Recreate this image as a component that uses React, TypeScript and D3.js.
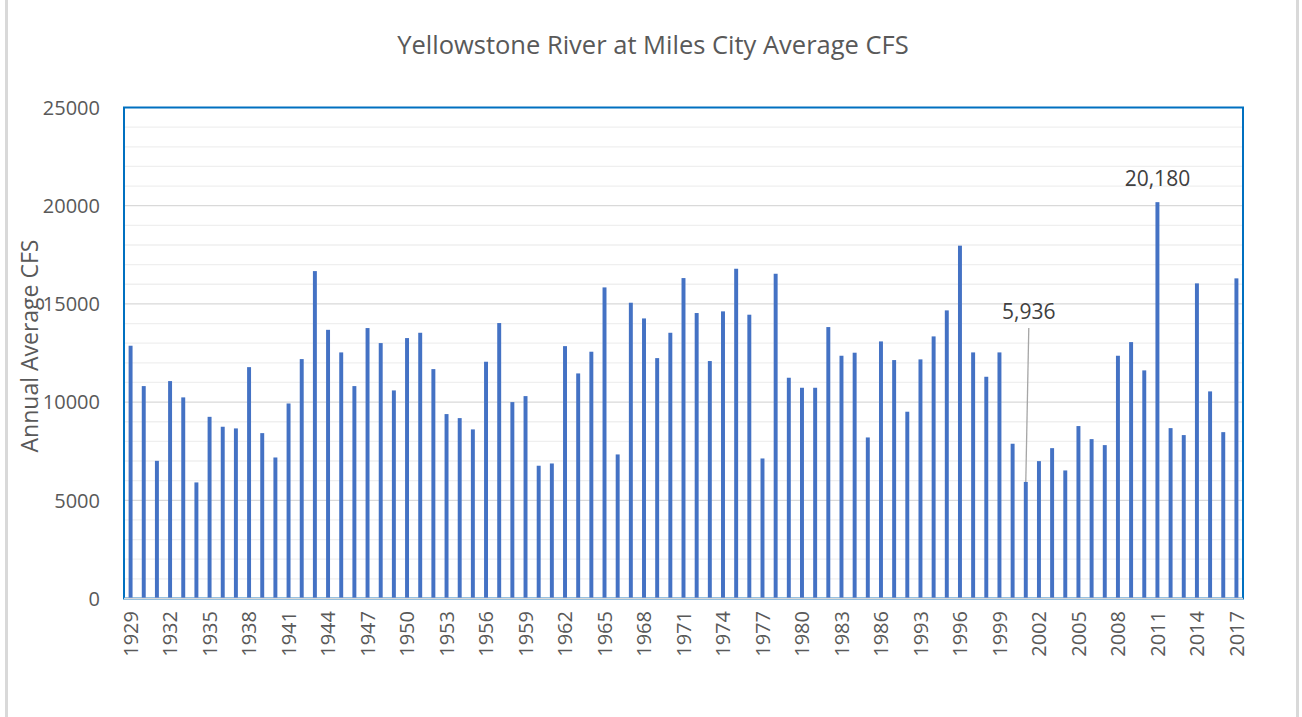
import React from "react";
import * as d3 from "d3";

const years: number[] = [
  1929, 1930, 1931, 1932, 1933, 1934, 1935, 1936, 1937, 1938,
  1939, 1940, 1941, 1942, 1943, 1944, 1945, 1946, 1947, 1948,
  1949, 1950, 1951, 1952, 1953, 1954, 1955, 1956, 1957, 1958,
  1959, 1960, 1961, 1962, 1963, 1964, 1965, 1966, 1967, 1968,
  1969, 1970, 1971, 1972, 1973, 1974, 1975, 1976, 1977, 1978,
  1979, 1980, 1981, 1982, 1983, 1984, 1985, 1986, 1987, 1988,
  1993, 1994, 1995, 1996, 1997, 1998, 1999, 2000, 2001, 2002,
  2003, 2004, 2005, 2006, 2007, 2008, 2009, 2010, 2011, 2012,
  2013, 2014, 2015, 2016, 2017,
];

const cfs: number[] = [
  12870, 10815, 7010, 11070, 10240, 5910, 9250, 8745, 8660, 11780,
  8420, 7180, 9930, 12190, 16670, 13680, 12530, 10815, 13770, 13005,
  10595, 13260, 13530, 11680, 9390, 9185, 8610, 12055, 14025, 10000,
  10305, 6760, 6875, 12850, 11460, 12565, 15840, 7335, 15060, 14260,
  12240, 13530, 16315, 14535, 12090, 14620, 16790, 14450, 7130, 16535,
  11240, 10730, 10730, 13820, 12360, 12515, 8200, 13090, 12140, 9510,
  12175, 13345, 14670, 17965, 12530, 11290, 12530, 7880, 5936, 6995,
  7655, 6520, 8780, 8115, 7810, 12360, 13055, 11615, 20180, 8675,
  8320, 16045, 10545, 8470, 16300,
];

const yTicks: number[] = [0, 5000, 10000, 15000, 20000, 25000];
const minorTicks: number[] = d3.range(1000, 25000, 1000);

const labelEvery = 3;
const title = "Yellowstone River at Miles City Average CFS";
const yTitle = "Annual Average CFS";
const annotations: { year: number; text: string; above: number; leader: boolean }[] = [
  { year: 2011, text: "20,180", above: 16, leader: false },
  { year: 2001, text: "5,936", above: 163, leader: true },
];

const FONT = "'Open Sans', 'DejaVu Sans', sans-serif";

export default function App() {
  const left = 124;
  const right = 1243;
  const top = 107.5;
  const bottom = 598.5;

  const x = d3
    .scaleBand<number>()
    .domain(years)
    .range([left, right])
    .paddingInner(0.7)
    .paddingOuter(0.35);
  const y = d3.scaleLinear().domain([0, 25000]).range([bottom, top]);

  const bw = x.bandwidth();
  const cx = (yr: number) => (x(yr) as number) + bw / 2;

  return (
    <svg
      width={1302}
      height={717}
      style={{ position: "absolute", left: 0, top: 0, background: "#fff" }}
      fontFamily={FONT}
    >
      <rect x={0} y={0} width={1302} height={717} fill="#fff" />
      <rect x={6.5} y={-10} width={1291} height={740} fill="none" stroke="#d9d9d9" strokeWidth={3} />

      <text x={653} y={54} textAnchor="middle" fontSize={25.5} fill="#595959">
        {title}
      </text>

      {/* minor gridlines */}
      {minorTicks
        .filter((t) => t % 5000 !== 0)
        .map((t) => (
          <line key={"m" + t} x1={left} x2={right} y1={y(t)} y2={y(t)} stroke="#efefef" strokeWidth={1.3} />
        ))}
      {/* major gridlines */}
      {yTicks
        .filter((t) => t > 0 && t < 25000)
        .map((t) => (
          <line key={"g" + t} x1={left} x2={right} y1={y(t)} y2={y(t)} stroke="#d9d9d9" strokeWidth={1.3} />
        ))}

      {/* plot border */}
      <rect x={left} y={top} width={right - left} height={bottom - top} fill="none" stroke="#0070c0" strokeWidth={2} />

      {/* bars */}
      {years.map((yr, i) => (
        <rect
          key={yr}
          x={x(yr)}
          y={y(cfs[i])}
          width={bw}
          height={y(0) - y(cfs[i])}
          fill="#4472c4"
        />
      ))}

      {/* x axis line */}
      <line x1={left} x2={right} y1={bottom} y2={bottom} stroke="#d9d9d9" strokeWidth={1.5} />

      {/* y tick labels */}
      {yTicks.map((t) => (
        <text key={"yt" + t} x={100} y={y(t)} dy="0.36em" textAnchor="end" fontSize={20} fill="#595959">
          {t}
        </text>
      ))}

      {/* x tick labels */}
      {years
        .filter((_, i) => i % labelEvery === 0)
        .map((yr) => (
          <text
            key={"xt" + yr}
            transform={`translate(${cx(yr)},${611}) rotate(-90)`}
            dy="0.36em"
            textAnchor="end"
            fontSize={20}
            fill="#595959"
          >
            {yr}
          </text>
        ))}

      {/* y title */}
      <text transform={`translate(30,346) rotate(-90)`} dy="0.36em" textAnchor="middle" fontSize={23} fill="#595959">
        {yTitle}
      </text>

      {/* annotations */}
      {annotations.map((a) => {
        const i = years.indexOf(a.year);
        const bx = cx(a.year);
        const by = y(cfs[i]);
        const ty = by - a.above;
        return (
          <g key={"a" + a.year}>
            {a.leader && (
              <line x1={bx + 3} y1={ty + 9} x2={bx} y2={by} stroke="#a6a6a6" strokeWidth={1.3} />
            )}
            <text x={bx + (a.leader ? 3 : 0)} y={ty} textAnchor="middle" fontSize={21} fill="#404040">
              {a.text}
            </text>
          </g>
        );
      })}
    </svg>
  );
}
